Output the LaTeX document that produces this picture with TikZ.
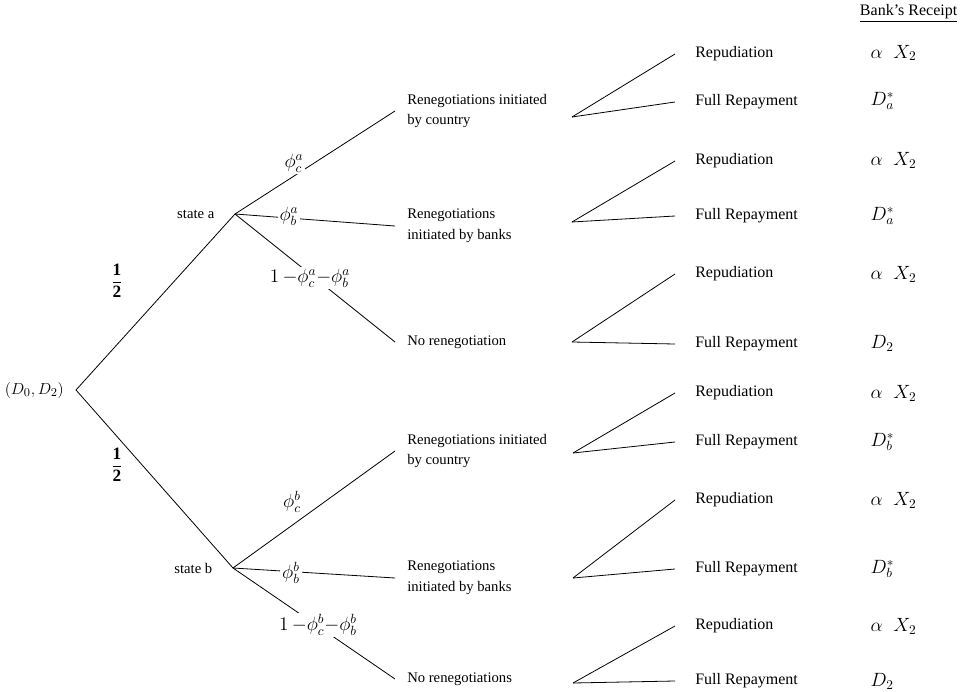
\documentclass[tikz,border=0pt]{standalone}
\usepackage{fontspec}
\setmainfont{Liberation Serif}
\tikzset{
  tree/.style={line width=0.6pt},
  lab/.style={font=\fontsize{11}{13}\selectfont},
  move/.style={anchor=west, inner xsep=9pt, align=left, font=\fontsize{11}{15.5}\selectfont},
  outcome/.style={anchor=west, inner xsep=15pt, font=\fontsize{12}{14}\selectfont},
  prob/.style={fill=white, inner sep=1.5pt, font=\fontsize{14}{16}\selectfont},
  pay/.style={anchor=west, font=\fontsize{14}{16}\selectfont}
}
\begin{document}
\begin{tikzpicture}[x=0.75pt, y=-0.75pt]
      \useasboundingbox (0,0) rectangle (964,692);
      % root and the two states
      \node[anchor=east, inner xsep=9pt, font=\fontsize{13}{15}\selectfont] (root) at (76,390) {$(D_0,D_2)$};
      \coordinate[label={[lab, label distance=12pt]left:state a}] (sa) at (235,214);
      \coordinate[label={[lab, label distance=12pt]left:state b}] (sb) at (233,568);
      % renegotiation nodes
      \node[move] (ca) at (395,111) {Renegotiations initiated\\by country};
      \node[move] (ba) at (395,226) {Renegotiations\\initiated by banks};
      \node[move] (na) at (395,342) {No renegotiation};
      \node[move] (cb) at (395,451) {Renegotiations initiated\\by country};
      \node[move] (bb) at (395,578) {Renegotiations\\initiated by banks};
      \node[move] (nb) at (395,679) {No renegotiations};
      % wedge vertices
      \coordinate (v1) at (572,117);
      \coordinate (v2) at (572,222);
      \coordinate (v3) at (572,342);
      \coordinate (v4) at (573,453);
      \coordinate (v5) at (573,578);
      \coordinate (v6) at (573,683);
      \begin{scope}[tree]
        \draw (root.east) to (sa);
        \draw (root.east) to (sb);
        \draw (sa) to (ca.west);
        \draw (sa) to (ba.west);
        \draw (sa) to (na.west);
        \draw (sb) to (cb.west);
        \draw (sb) to (bb.west);
        \draw (sb) to (nb.west);
      \end{scope}
      % outcomes
      \foreach \i/\r/\f in {1/54/102, 2/161/216, 3/274/344, 4/393/442, 5/500/569, 6/626/681} {
        \node[outcome] (r\i) at (675,\r) {Repudiation};
        \node[outcome] (f\i) at (675,\f) {Full Repayment};
        \draw[tree] (v\i) to (r\i.west);
        \draw[tree] (v\i) to (f\i.west);
      }
      % probabilities
      \node[font=\fontsize{13}{15}\selectfont] (pa) at (117,281) {$\displaystyle\frac{\mathbf{1}}{\mathbf{2}}$};
      \node[font=\fontsize{13}{15}\selectfont] (pb) at (117,465) {$\displaystyle\frac{\mathbf{1}}{\mathbf{2}}$};
      \node[prob] (phica) at (294,163) {$\phi_c^a$};
      \node[prob] (phiba) at (289,216) {$\phi_b^a$};
      \node[prob] (phina) at (310,278) {$1\,{-}\phi_c^a{-}\phi_b^a$};
      \node[prob] (phicb) at (292,502) {$\phi_c^b$};
      \node[prob] (phibb) at (291,573) {$\phi_b^b$};
      \node[prob] (phinb) at (318,625) {$1\,{-}\phi_c^b{-}\phi_b^b$};
      % bank's receipts
      \node[pay, anchor=east, font=\fontsize{12}{14}\selectfont] (head) at (962,13) {\underline{Bank's Receipt}};
      \node[pay] (x1) at (866,53) {$\alpha\;\; X_2$};
      \node[pay] (d1) at (866,101) {$D_a^*$};
      \node[pay] (x2) at (866,160) {$\alpha\;\; X_2$};
      \node[pay] (d2) at (866,216) {$D_a^*$};
      \node[pay] (x3) at (866,274) {$\alpha\;\; X_2$};
      \node[pay] (d3) at (866,343) {$D_2$};
      \node[pay] (x4) at (866,393) {$\alpha\;\; X_2$};
      \node[pay] (d4) at (866,442) {$D_b^*$};
      \node[pay] (x5) at (866,500) {$\alpha\;\; X_2$};
      \node[pay] (d5) at (866,569) {$D_b^*$};
      \node[pay] (x6) at (866,626) {$\alpha\;\; X_2$};
      \node[pay] (d6) at (866,681) {$D_2$};
    \end{tikzpicture}
\end{document}
